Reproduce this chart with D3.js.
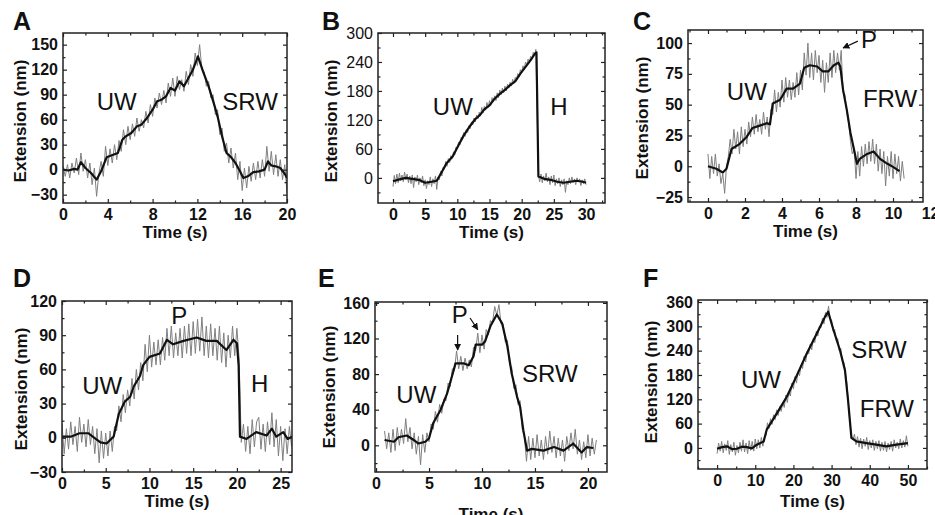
<!DOCTYPE html>
<html>
<head>
<meta charset="utf-8">
<script src="https://cdn.jsdelivr.net/npm/d3@7"></script>
<style>
  body { margin: 0; background: #fff; }
  svg { display: block; font-family: Arial, "Liberation Sans", sans-serif; }
  .tick line { stroke: #222; stroke-width: 1.2; }
  .tick text { font-size: 16px; font-weight: bold; fill: #111; }
  .light .tick text { font-weight: normal; }
  .title { font-size: 17px; font-weight: bold; fill: #111; }
  .letter { font-size: 25px; font-weight: bold; fill: #111; }
  .note { font-size: 24px; fill: #111; }
</style>
</head>
<body>
<div id="wrapper"></div>
<script>
// ---- data ----
// grey traces: raw samples, evenly spaced in time (start, step)
const aGreyStart = 0, aGreyStep = 0.2
const aGrey = [5,-8,6,-10,8,-4,14,-6,20,-2, 12,-10,8,-18,2,-32,-5,10,-8,28, 5,25,8,30,12,35,22,48,30,52,
  36,55,40,62,46,60,50,70,56,78, 64,86,74,92,78,95,80,104,88,110, 88,112,96,108,94,118,102,126,112,140,
  125,150,120,118,100,106,86,90,66,72, 42,50,22,32,8,26,2,20,-12,10, -25,2,-22,4,-14,8,-12,10,-10,12,
  -8,28,-2,22,-6,18,-8,12,-12,6, -28]
const aBlack = [[0,0],[0.5,-1],[1,1],[1.3,0],[1.6,9],[2,2],[2.5,-4],[3,-12],[3.4,-2],[3.9,15],[4.3,17],[4.9,20],
  [5.3,36],[5.6,40],[6.1,44],[6.6,52],[7,54],[7.5,62],[8,72],[8.4,82],[8.8,84],[9.2,88],[9.6,98],[10,95],
  [10.4,106],[10.8,100],[11.2,110],[11.6,120],[12.05,136],[12.5,118],[13,100],[13.5,78],[13.8,64],[14.2,40],
  [14.6,20],[15,15],[15.4,8],[15.8,-2],[16.1,-10],[16.5,-8],[17,-3],[17.5,-2],[18,0],[18.3,10],[18.6,5],
  [19,4],[19.4,2],[19.8,-5],[20,-10]]

const bGreyStart = 0, bGreyStep = 0.2
const bGrey = [-18,5,-12,8,-10,10,-6,6,-8,12, -4,8,-10,4,-12,6,-20,2,-8,6, -14,0,-10,4,-16,-4,-22,-6,-14,2,
  -18,-2,-12,4,-24,2,-4,14,4,22, 18,34,24,40,32,46,40,54,48,64, 60,74,68,84,80,94,86,100,94,108,
  102,116,110,124,116,130,122,136,128,146, 134,148,140,156,146,160,150,166,158,170,
  160,176,166,182,172,186,176,190,180,194, 186,198,190,204,196,208,204,216,210,224,
  218,232,226,240,234,246,240,252,246,260, 254,266,140,6,-8,8,-10,4,-6,10,
  -8,2,-14,4,-10,6,-16,-2,-12,0, -18,-4,-14,-2,-30,-6,-14,0,-12,2, -10,-2,-14,0,-8,-2,-16,-4,-12,-2, -14]
const bBlack = [[0,-7],[1,-3],[2,0],[3,-2],[4,-4],[5,-10],[6,-8],[6.8,-6],[7.5,10],[8.3,30],[9.3,45],[10.2,68],
  [11,88],[12,108],[12.8,122],[13.5,130],[14.2,142],[15,150],[15.8,164],[16.6,174],[17.4,182],[18.2,192],
  [19,200],[19.8,216],[20.6,230],[21.4,244],[22,256],[22.3,260],[22.6,3],[23.5,-2],[24.5,-4],[25.5,-8],
  [26.5,-10],[27.5,-8],[28.5,-6],[29.5,-8],[30,-10]]

const cGreyStart = 0, cGreyStep = 0.1
const cGrey = [10,-10,8,-6,10,-8,2,-14,-6,-22, 0,8,22,10,30,14,28,10,32,16, 30,18,36,24,40,26,42,28,38,26,
  44,30,40,24,46,42,62,44,60,48, 70,52,72,56,70,54,68,56,76,58, 78,62,92,74,100,72,92,70,94,76,
  90,68,86,60,84,68,92,72,94,76, 92,78,94,60,58,44,36,20,10,14, -10,12,-8,16,0,18,2,20,4,22,
  2,18,-4,14,-6,12,-16,8,-8,12, -10,10,-6,8,-12,4,-10]
const cBlack = [[0,0],[0.45,-2],[0.8,-5],[1,-2],[1.27,14],[1.7,18],[2.1,24],[2.4,31],[2.8,33],[3.2,35],[3.35,34],
  [3.5,51],[3.9,54],[4.25,63],[4.6,63],[4.97,67],[5.2,80],[5.5,82],[5.9,81],[6.2,77],[6.5,77],[6.8,82],
  [7.05,84],[7.15,81],[7.3,62],[7.5,46],[7.7,27],[7.9,13],[8.05,2],[8.2,6],[8.6,10],[8.95,12],[9.3,6],
  [9.7,2],[10,-0.5],[10.35,-4]]

const dGreyStart = 0, dGreyStep = 0.25
const dGrey = [12,-14,8,-10,14,-6,10,-12,18,-4, 12,-8,16,-6,10,-14,8,-22,6,-18, 4,-16,6,-12,10,6,28,14,38,22,
  42,28,52,34,60,42,66,50,82,58, 90,62,84,64,86,64,88,68,96,72, 98,70,92,72,96,70,98,74,100,72,
  102,74,104,76,106,72,98,70,100,72, 96,68,98,66,92,62,90,70,98,72, 96,70,-4,12,-12,10,-14,16,-8,14,
  18,-10,12,-12,14,-6,22,-8,16,-16, 10,-20,8,-14,10,-8]
const dBlack = [[0,1],[1,1],[2,4],[3,4],[3.7,0],[4.4,-4],[5.1,-5],[5.9,1],[6.5,21],[7.2,32],[7.8,36],[8.2,45],
  [8.9,54],[9.3,64],[10,71],[11.2,74],[12,86],[12.7,82],[13.9,85],[15.4,88],[16.5,85],[17.7,85],[18.8,77],
  [19.6,86],[20,83],[20.2,63],[20.35,1],[21.1,-1],[22.2,5],[23.4,2],[24,8],[24.5,1],[25.3,5],[25.8,-1],[26.3,1]]

const eGreyStart = 0.8, eGreyStep = 0.2
const eGrey = [16,-4,14,-8,18,-6,20,0,18,2, 30,4,20,-4,14,-10,10,-22,12,-8, 14,4,24,18,38,26,46,36,52,50,
  70,66,86,84,106,86,100,84,98,86, 96,88,110,106,126,104,124,108,130,124, 140,138,156,146,158,136,136,116,118,90,
  88,64,68,46,50,18,10,-18,10,-16, 8,-14,12,-12,6,-16,10,-10,16,-8, 10,-14,8,-12,6,-18,10,-6,14,-4,
  18,-10,6,-16,4,-14,12,-12,8,-10, 6]
const eBlack = [[0.8,6],[1.7,4],[2.1,9],[2.9,11],[3.55,6],[4,2],[4.65,4],[5,8],[5.4,25],[6.1,40],[6.7,58],
  [7.2,79],[7.5,92],[8.3,92],[8.75,90],[9.2,100],[9.4,113],[10,113],[10.3,117],[10.8,134],[11.4,147],
  [11.9,137],[12.4,111],[12.8,81],[13.3,55],[13.6,43],[13.9,17],[14.25,-6],[14.7,-4],[15.8,-6],[16.8,-2],
  [17.7,-6],[18.6,2],[19.4,-8],[19.9,-2],[20.5,-3]]

const fGreyStart = 0, fGreyStep = 0.4
const fGrey = [-14,12,-8,16,-12,10,-6,18,-16,8, -10,14,-18,6,-12,14,-8,20,-10,12, -14,18,-6,16,-8,22,-2,20,0,26,
  4,28,30,62,48,72,58,82,70,94, 80,102,90,112,100,130,112,138,128,160, 146,176,160,188,178,204,196,226,212,238,
  232,256,242,270,260,288,276,300,296,320, 306,334,322,350,318,316,288,292,266,270,
  240,246,216,212,188,160,110,62,30,20, 34,8,28,2,24,-2,22,4,26,-4, 18,0,20,-6,16,-2,18,-8,14,-6,
  16,-10,12,-4,16,-8,20,0,14,-2, 22,0,18,2,30,4]
const fBlack = [[0,-2],[1.3,2],[2.6,4],[3.9,-3],[5.2,-2],[6.5,3],[7.8,2],[9.1,-1],[10.4,8],[12.2,16],[13,45],
  [15.7,86],[18.3,127],[20.9,179],[23.5,233],[26.1,282],[28.3,324],[29.1,336],[30.4,294],[32.2,241],
  [33.5,192],[34.3,119],[35.2,25],[36.5,16],[39.1,12],[41.7,8],[44.3,4],[47,8],[50,12]]

// tick labels
const aXTicks = [0,4,8,12,16,20], aYTicks = [-30,0,30,60,90,120,150]
const bXTicks = [0,5,10,15,20,25,30], bYTicks = [0,60,120,180,240,300]
const cXTicks = [0,2,4,6,8,10,12], cYTicks = [-25,0,25,50,75,100]
const dXTicks = [0,5,10,15,20,25], dYTicks = [-30,0,30,60,90,120]
const eXTicks = [0,5,10,15,20], eYTicks = [0,40,80,120,160]
const fXTicks = [0,10,20,30,40,50], fYTicks = [0,60,120,180,240,300,360]

// ---- layout ----
const panels = [
  { id: "A", frame: { left: 63, top: 33, right: 287, bottom: 203 }, xDomain: [0, 20], yDomain: [-40, 164],
    grey: aGrey, greyStart: aGreyStart, greyStep: aGreyStep, black: aBlack,
    xTicks: aXTicks, yTicks: aYTicks, xMinor: 2, yMinor: 15,
    letter: [13, 30], yTitle: [26, 121], xTitleDy: 35,
    notes: [["UW", 4.8, 72], ["SRW", 16.7, 72]], arrows: [] },
  { id: "B", frame: { left: 378, top: 33, right: 605, bottom: 203 }, xDomain: [-2.33, 32.95], yDomain: [-52, 300],
    grey: bGrey, greyStart: bGreyStart, greyStep: bGreyStep, black: bBlack,
    xTicks: bXTicks, yTicks: bYTicks, xMinor: 2.5, yMinor: 30, lightY: true,
    letter: [322, 30], yTitle: [337, 121], xTitleDy: 35,
    notes: [["UW", 9.3, 130], ["H", 25.8, 130]], arrows: [] },
  { id: "C", frame: { left: 688, top: 30, right: 923, bottom: 202 }, xDomain: [-1.08, 11.62], yDomain: [-29, 110.6],
    grey: cGrey, greyStart: cGreyStart, greyStep: cGreyStep, black: cBlack,
    xTicks: cXTicks, yTicks: cYTicks, xMinor: 1, yMinor: 12.5,
    letter: [633, 30], yTitle: [648, 118], xTitleDy: 35,
    notes: [["UW", 2.1, 53.6], ["FRW", 9.84, 48], ["P", 8.7, 96]],
    arrows: [[8.1, 101.6, 7.3, 96]] },
  { id: "D", frame: { left: 62, top: 301, right: 292, bottom: 472 }, xDomain: [0, 26.3], yDomain: [-30, 120],
    grey: dGrey, greyStart: dGreyStart, greyStep: dGreyStep, black: dBlack,
    xTicks: dXTicks, yTicks: dYTicks, xMinor: 2.5, yMinor: 15,
    letter: [13, 287], yTitle: [27, 389], xTitleDy: 35,
    notes: [["UW", 4.6, 38], ["P", 13.4, 100], ["H", 22.6, 40]], arrows: [] },
  { id: "E", frame: { left: 375, top: 302, right: 607, bottom: 472 }, xDomain: [-0.1, 21.8], yDomain: [-30, 161],
    grey: eGrey, greyStart: eGreyStart, greyStep: eGreyStep, black: eBlack,
    xTicks: eXTicks, yTicks: eYTicks, xMinor: 2.5, yMinor: 20,
    letter: [318, 287], yTitle: [335, 387], xTitleDy: 48,
    notes: [["UW", 3.8, 47], ["P", 7.9, 137], ["SRW", 16.4, 71]],
    arrows: [[7.7, 124, 7.7, 107], [8.87, 143, 9.6, 130]] },
  { id: "F", frame: { left: 698, top: 300, right: 927, bottom: 469 }, xDomain: [-5, 55], yDomain: [-52, 365],
    grey: fGrey, greyStart: fGreyStart, greyStep: fGreyStep, black: fBlack,
    xTicks: fXTicks, yTicks: fYTicks, xMinor: 5, yMinor: 30,
    letter: [643, 287], yTitle: [657, 382], xTitleDy: 38,
    notes: [["UW", 11.5, 148], ["SRW", 42.4, 222], ["FRW", 44.5, 76]], arrows: [] },
]

const svg = d3.select("#wrapper")
  .append("svg")
    .attr("width", 935)
    .attr("height", 515)

svg.append("defs").append("marker")
    .attr("id", "head")
    .attr("viewBox", "0 0 10 10")
    .attr("refX", 9).attr("refY", 5)
    .attr("markerWidth", 7).attr("markerHeight", 7)
    .attr("markerUnits", "userSpaceOnUse")
    .attr("orient", "auto")
  .append("path")
    .attr("d", "M0,0L10,5L0,10Z")
    .attr("fill", "#111")

function minorTicks(scale, step, majors) {
  const [d0, d1] = scale.domain()
  return d3.range(Math.ceil(d0 / step) * step, d1 + 1e-9, step)
    .filter(v => !majors.some(m => Math.abs(m - v) < 1e-6))
}

function drawPanel(p) {
  const w = p.frame.right - p.frame.left
  const h = p.frame.bottom - p.frame.top

  const xScale = d3.scaleLinear().domain(p.xDomain).range([0, w])
  const yScale = d3.scaleLinear().domain(p.yDomain).range([h, 0])

  const bounds = svg.append("g")
      .attr("transform", `translate(${p.frame.left},${p.frame.top})`)

  bounds.append("clipPath")
      .attr("id", `clip-${p.id}`)
    .append("rect")
      .attr("width", w)
      .attr("height", h)

  const clip = bounds.append("g").attr("clip-path", `url(#clip-${p.id})`)

  const lineGenerator = d3.line()
    .x(d => xScale(d[0]))
    .y(d => yScale(d[1]))

  // raw trace then the smoothed one on top
  const greyPoints = p.grey.map((v, i) => [p.greyStart + i * p.greyStep, v])
  clip.append("path")
      .attr("d", lineGenerator(greyPoints))
      .attr("fill", "none")
      .attr("stroke", "#808080")
      .attr("stroke-width", 1)
  clip.append("path")
      .attr("d", lineGenerator(p.black))
      .attr("fill", "none")
      .attr("stroke", "#111")
      .attr("stroke-width", 2.2)
      .attr("stroke-linejoin", "round")

  // axes, ticks pointing inwards on all four sides
  const inX = v => v >= p.xDomain[0] && v <= p.xDomain[1]
  const inY = v => v >= p.yDomain[0] && v <= p.yDomain[1]
  const xMajIn = p.xTicks.filter(inX)
  const yMajIn = p.yTicks.filter(inY)
  const xMin = minorTicks(xScale, p.xMinor, p.xTicks)
  const yMin = minorTicks(yScale, p.yMinor, p.yTicks)
  const noDomain = g => g.select(".domain").remove()

  const xAxis = bounds.append("g")
      .attr("transform", `translate(0,${h})`)
    .call(d3.axisBottom(xScale).tickValues(p.xTicks).tickSize(-4).tickPadding(6))
    .call(noDomain)
  xAxis.selectAll(".tick").filter(d => !inX(d)).select("line").remove()

  bounds.append("g")
      .attr("transform", `translate(0,${h})`)
    .call(d3.axisBottom(xScale).tickValues(xMin).tickSize(-2.5).tickFormat(""))
    .call(noDomain)
  bounds.append("g")
    .call(d3.axisTop(xScale).tickValues(xMajIn).tickSize(-4).tickFormat(""))
    .call(noDomain)
  bounds.append("g")
    .call(d3.axisTop(xScale).tickValues(xMin).tickSize(-2.5).tickFormat(""))
    .call(noDomain)

  bounds.append("g")
      .attr("class", p.lightY ? "light" : null)
    .call(d3.axisLeft(yScale).tickValues(p.yTicks).tickSize(-4).tickPadding(5))
    .call(noDomain)
  bounds.append("g")
    .call(d3.axisLeft(yScale).tickValues(yMin).tickSize(-2.5).tickFormat(""))
    .call(noDomain)
  bounds.append("g")
      .attr("transform", `translate(${w},0)`)
    .call(d3.axisRight(yScale).tickValues(yMajIn).tickSize(-4).tickFormat(""))
    .call(noDomain)
  bounds.append("g")
      .attr("transform", `translate(${w},0)`)
    .call(d3.axisRight(yScale).tickValues(yMin).tickSize(-2.5).tickFormat(""))
    .call(noDomain)

  bounds.append("rect")
      .attr("width", w)
      .attr("height", h)
      .attr("fill", "none")
      .attr("stroke", "#222")
      .attr("stroke-width", 1.5)

  // annotations
  bounds.selectAll(".note")
    .data(p.notes)
    .join("text")
      .attr("class", "note")
      .attr("text-anchor", "middle")
      .attr("x", d => xScale(d[1]))
      .attr("y", d => yScale(d[2]))
      .text(d => d[0])

  bounds.selectAll(".arrow")
    .data(p.arrows)
    .join("line")
      .attr("class", "arrow")
      .attr("x1", d => xScale(d[0]))
      .attr("y1", d => yScale(d[1]))
      .attr("x2", d => xScale(d[2]))
      .attr("y2", d => yScale(d[3]))
      .attr("stroke", "#111")
      .attr("stroke-width", 1.2)
      .attr("marker-end", "url(#head)")

  // titles
  svg.append("text")
      .attr("class", "title")
      .attr("text-anchor", "middle")
      .attr("transform", `translate(${p.yTitle[0]},${p.yTitle[1]}) rotate(-90)`)
      .text("Extension (nm)")
  svg.append("text")
      .attr("class", "title")
      .attr("text-anchor", "middle")
      .attr("x", p.frame.left + w / 2)
      .attr("y", p.frame.bottom + p.xTitleDy)
      .text("Time (s)")
  svg.append("text")
      .attr("class", "letter")
      .attr("x", p.letter[0])
      .attr("y", p.letter[1])
      .text(p.id)
}

panels.forEach(drawPanel)
</script>
</body>
</html>
